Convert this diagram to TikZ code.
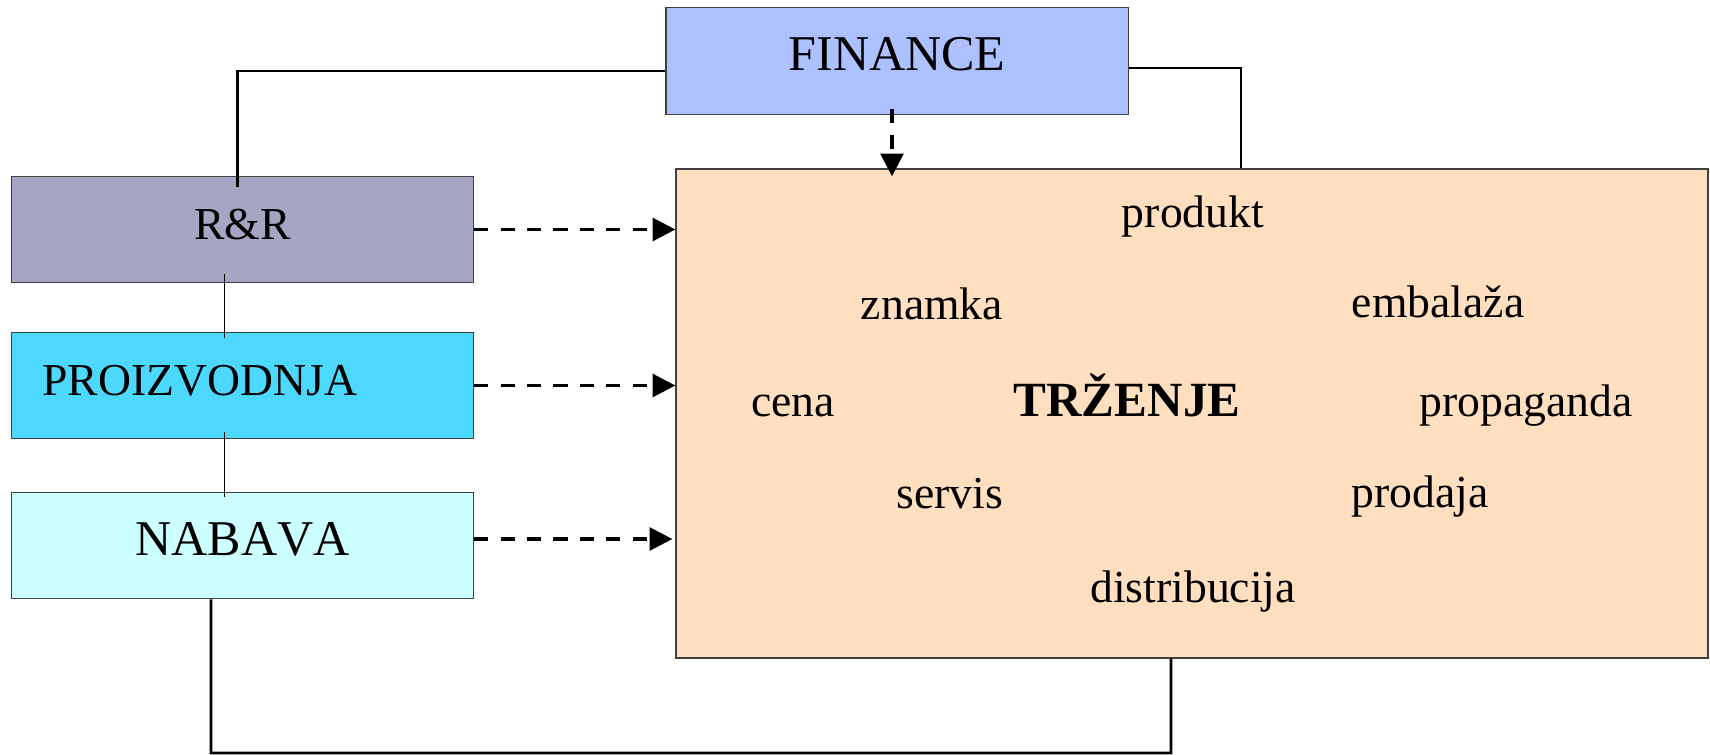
\documentclass[tikz,border=0pt]{standalone}
\usepackage{fontspec}
\setmainfont{Liberation Serif}
\newfontfamily\plainserif{Liberation Serif}[Kerning=Off]
\usetikzlibrary{positioning,arrows.meta}

\definecolor{finblue}{RGB}{173,192,255}
\definecolor{rrgray}{RGB}{166,166,196}
\definecolor{procyan}{RGB}{77,217,255}
\definecolor{nablight}{RGB}{204,255,255}
\definecolor{trzpeach}{RGB}{255,223,192}

\begin{document}
\begin{tikzpicture}[x=0.02cm,y=-0.02cm,
    box/.style={draw=black!75,line width=0.8pt,minimum width=9.25cm,minimum height=2.13cm,
      inner sep=0pt,text height=17pt,text depth=6pt,font=\fontsize{26}{30}\selectfont},
    bigbox/.style={box,font=\plainserif\fontsize{28.5}{32}\selectfont},
    word/.style={anchor=base,inner sep=0pt,font=\fontsize{26}{30}\selectfont},
    flow/.style={line width=2pt,dash pattern=on 8pt off 7pt,-{Triangle[length=13pt,width=13pt]}},
    link/.style={line width=1.5pt},
    thinlink/.style={line width=0.5pt}]
    \useasboundingbox (0,0) rectangle (1710,754);

    % departments
    \node[bigbox,fill=finblue] (fin) at (897,61) {FINANCE};
    \node[box,fill=rrgray] (rr) at (242.5,229.5) {R\&R};
    \node[box,fill=procyan,text width=8cm,align=left,inner xsep=0.62cm] (pro) at (242.5,385.5) {PROIZVODNJA};
    \node[bigbox,fill=nablight] (nab) at (242.5,545.5) {NABAVA};
    \node[draw=black!75,line width=0.8pt,fill=trzpeach,minimum width=20.64cm,minimum height=9.78cm,inner sep=0pt] (trz) at (1192,413.5) {};

    % marketing mix
    \node[word] (produkt) at (1193,227) {produkt};
    \node[word] (znamka) at (932,319) {znamka};
    \node[word] (embalaza) at (1438,317) {embalaža};
    \node[word] (cena) at (793,416) {cena};
    \node[word,font=\fontsize{28}{32}\selectfont\bfseries] (trzenje) at (1127,416) {TRŽENJE};
    \node[word] (propaganda) at (1526,416) {propaganda};
    \node[word] (servis) at (950,508) {servis};
    \node[word] (prodaja) at (1420,507) {prodaja};
    \node[word] (distribucija) at (1193,602) {distribucija};

    % links
    \coordinate (bot) at (1171,753);
    \draw[link] ([yshift=-0.2cm]fin.west) -| ([xshift=-0.1cm,yshift=-0.22cm]rr.north);
    \draw[link] ([yshift=-0.14cm]fin.east) -| ([xshift=0.98cm]trz.north);
    \draw[link] ([xshift=-0.63cm]nab.south) |- (bot) -- ([xshift=-0.42cm]trz.south);
    \draw[thinlink] ([xshift=-0.37cm,yshift=0.18cm]rr.south) -- ([xshift=-0.37cm,yshift=-0.12cm]pro.north);
    \draw[thinlink] ([xshift=-0.37cm,yshift=0.14cm]pro.south) -- ([xshift=-0.37cm,yshift=-0.1cm]nab.north);

    % flows
    \draw[flow] ([xshift=-0.1cm,yshift=0.12cm]fin.south) -- ([xshift=-0.1cm,yshift=-0.16cm]fin.south |- trz.north);
    \draw[flow] (rr.east) -- (rr.east -| trz.west);
    \draw[flow] (pro.east) -- (pro.east -| trz.west);
    \draw[flow] ([yshift=0.13cm]nab.east) -- ([yshift=0.13cm,xshift=-0.06cm]nab.east -| trz.west);
\end{tikzpicture}
\end{document}
